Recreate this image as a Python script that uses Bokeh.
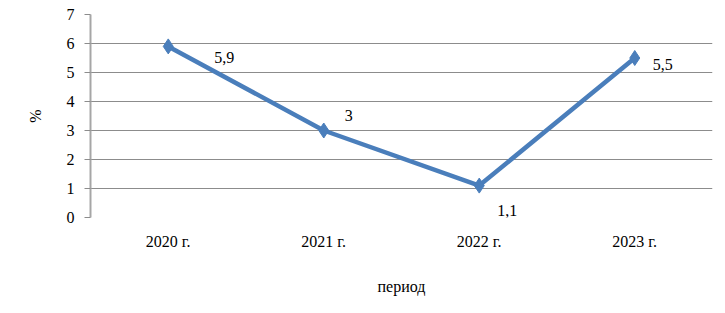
from bokeh.plotting import figure
from bokeh.models import ColumnDataSource, FixedTicker, FactorRange, Range1d
from bokeh.core.properties import value
from bokeh.embed import file_html
from bokeh.resources import INLINE

periods = ["2020 г.", "2021 г.", "2022 г.", "2023 г."]
rates = [5.9, 3.0, 1.1, 5.5]
rate_labels = ["5,9", "3", "1,1", "5,5"]
y_ticks = [0, 1, 2, 3, 4, 5, 6, 7]

# label placement (pixels), layout only
lab_dx = [46, 21, 18, 18]
lab_dy = [11, -15, 25, 6]

FONT = "Liberation Serif"
BLUE = "#4A7EBB"
GRID = "#8C8C8C"

src = ColumnDataSource(dict(x=periods, y=rates, lab=rate_labels, dx=lab_dx, dy=lab_dy))

p = figure(width=717, height=305, x_range=FactorRange(*periods), y_range=Range1d(0, 7),
           output_backend="svg", toolbar_location=None,
           min_border_left=90, min_border_right=5, min_border_top=14, min_border_bottom=88)
p.outline_line_color = None
p.background_fill_color = "white"

p.line("x", "y", source=src, line_color=BLUE, line_width=4.5)
p.scatter("x", "y", source=src, marker="diamond", size=15, fill_color=BLUE, line_color=BLUE)
p.text("x", "y", text="lab", source=src, x_offset="dx", y_offset="dy",
       text_font=value(FONT), text_font_size="16px", text_color="black",
       text_align="left", text_baseline="middle")

p.xgrid.grid_line_color = None
p.ygrid.grid_line_color = GRID
p.ygrid.grid_line_width = 1
p.ygrid.ticker = FixedTicker(ticks=y_ticks)

ya = p.yaxis[0]
ya.ticker = FixedTicker(ticks=y_ticks)
ya.axis_line_color = "#A6A6A6"
ya.axis_line_width = 2
ya.major_tick_line_color = GRID
ya.major_tick_out = 6
ya.major_tick_in = 0
ya.minor_tick_line_color = None
ya.major_label_text_font = FONT
ya.major_label_text_font_size = "16px"
ya.major_label_text_color = "black"
ya.major_label_standoff = 10
ya.axis_label = "%"
ya.axis_label_text_font = FONT
ya.axis_label_text_font_size = "16px"
ya.axis_label_text_font_style = "normal"
ya.axis_label_text_color = "black"
ya.axis_label_standoff = 20

xa = p.xaxis[0]
xa.axis_line_color = None
xa.major_tick_line_color = None
xa.minor_tick_line_color = None
xa.major_label_text_font = FONT
xa.major_label_text_font_size = "16px"
xa.major_label_text_color = "black"
xa.major_label_standoff = 9
xa.axis_label = "период"
xa.axis_label_text_font = FONT
xa.axis_label_text_font_size = "16px"
xa.axis_label_text_font_style = "normal"
xa.axis_label_text_color = "black"
xa.axis_label_standoff = 25

open("out.html", "w").write(file_html(p, INLINE))
